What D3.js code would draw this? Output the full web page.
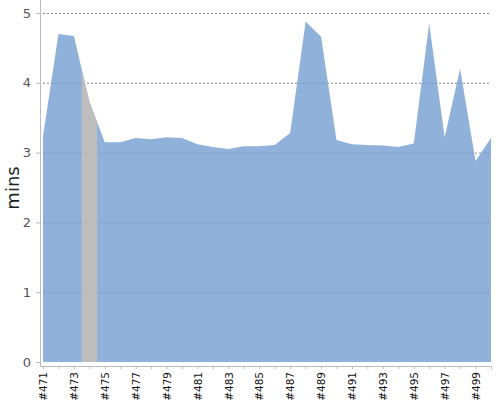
<!DOCTYPE html>
<html><head><meta charset="utf-8">
<script src="https://cdn.jsdelivr.net/npm/d3@7"></script>
<style>body{margin:0;background:#fff}</style>
</head><body>
<svg id="c" width="500" height="400"></svg>
<script>
const categories = ["#471","#472","#473","#474","#475","#476","#477","#478","#479","#480","#481","#482","#483","#484","#485","#486","#487","#488","#489","#490","#491","#492","#493","#494","#495","#496","#497","#498","#499","#500"];
const values = [3.23,4.70,4.67,3.73,3.15,3.15,3.21,3.19,3.22,3.21,3.12,3.08,3.05,3.09,3.09,3.11,3.28,4.88,4.66,3.18,3.12,3.11,3.10,3.08,3.13,4.85,3.22,4.20,2.88,3.21];
const highlight = ["#474"];
const yTicks = [0,1,2,3,4,5];
const yLabel = "mins";

const svg = d3.select("#c");
const pL = 43, pR = 491, pT = 13, pB = 362;
const x = d3.scalePoint().domain(categories).range([pL, pR]);
const y = d3.scaleLinear().domain([0,5]).range([pB, pT]);
const step = x.step();

// gridlines
svg.append("g").selectAll("line").data(yTicks.filter(d=>d>0)).join("line")
  .attr("x1", pL).attr("x2", pR).attr("y1", d=>y(d)+0.5).attr("y2", d=>y(d)+0.5)
  .attr("stroke","#888").attr("stroke-dasharray","2,2").attr("stroke-width",1);

const area = d3.area().x((d,i)=>x(categories[i])).y0(y(0)).y1(d=>y(d));
svg.append("defs").append("clipPath").attr("id","ac").append("path").attr("d", area(values));
svg.append("path").attr("d", area(values)).attr("fill","#6f9bcf").attr("fill-opacity",0.78);

svg.append("g").attr("clip-path","url(#ac)").selectAll("rect").data(highlight).join("rect")
  .attr("x", d=>x(d)-step/2).attr("width", step).attr("y", pT-10).attr("height", pB-pT+10)
  .attr("fill","#bdbdbd");

// y axis
const ya = svg.append("g").attr("transform","translate(40,0)")
  .call(d3.axisLeft(y).tickValues(yTicks).tickSize(4).tickPadding(5).tickFormat(d3.format("d")));
ya.select(".domain").attr("stroke","#bbb").attr("d", `M0.5,0V366.5`);
ya.selectAll(".tick line").attr("stroke","#bbb");
ya.selectAll("text").attr("font-family","DejaVu Sans").attr("font-size",13).attr("fill","#555");

// x axis
const xa = svg.append("g").attr("transform","translate(0,366)")
  .call(d3.axisBottom(x).tickSize(3).tickFormat((d,i)=> i%2===0 ? d : ""));
xa.select(".domain").attr("stroke","#bbb").attr("d", `M40,0.5H${pR}`);
xa.selectAll(".tick line").attr("stroke","#bbb");
xa.selectAll("text").attr("font-family","DejaVu Sans").attr("font-size",10.5).attr("fill","#111")
  .attr("transform","rotate(-90)").attr("text-anchor","end").attr("x",-6).attr("y",0).attr("dy","0.35em");

svg.append("text").attr("transform","translate(19,188) rotate(-90)").attr("text-anchor","middle")
  .attr("font-family","DejaVu Sans").attr("font-size",18).attr("fill","#222").text(yLabel);
</script>
</body></html>
